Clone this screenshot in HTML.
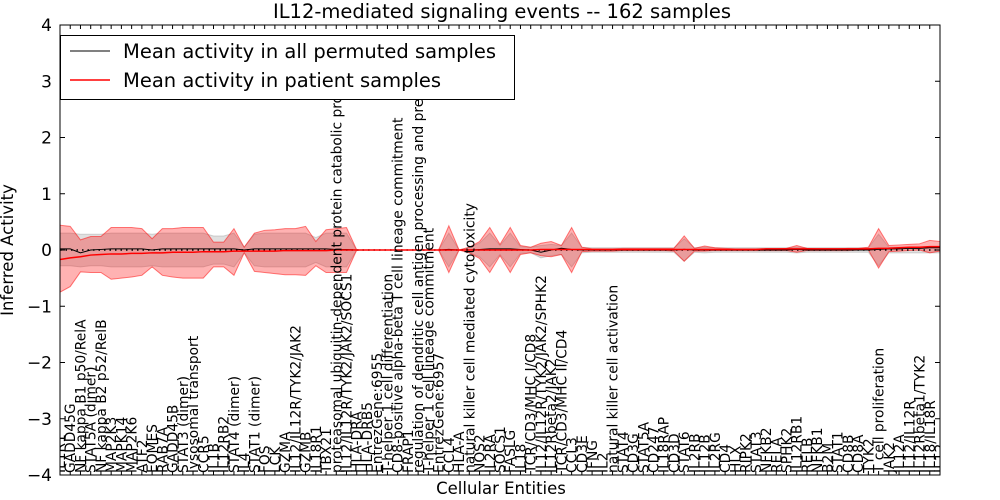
<!DOCTYPE html>
<html><head><meta charset="utf-8"><style>
html,body{margin:0;padding:0;background:#fff;}
svg{display:block;font-family:"DejaVu Sans","Liberation Sans",sans-serif;}
</style></head><body>
<svg id="chart" width="1000" height="500" viewBox="0 0 1000 500"></svg>
<script>
const labels = ["IL1R1","GADD45G","NF kappa B1 p50/RelA","STAT5A (dimer)","NF kappa B2 p52/RelB","MAP2K3","MAPK14","MAP2K6","ATF2","EOMES","RAB7A","GADD45B","STAT3 (dimer)","lysosomal transport","CCR5","IL1B","IL12RB2","STAT4 (dimer)","IL4","STAT1 (dimer)","FOS","LCK","GZMA","IL12/IL12R/TYK2/JAK2","GZMB","IL18R1","TBX21","proteasomal ubiquitin-dependent protein catabolic process","IL12/IL12R/TYK2/JAK2/SOCS1","HLA-DRA","HLA-DRB5","EntrezGene:6955","T-helper 1 cell differentiation","CD8-positive alpha-beta T cell lineage commitment","FRAP1","regulation of dendritic cell antigen processing and presentation","T-helper 1 cell lineage commitment","EntrezGene:6957","CCL4","HLA-A","natural killer cell mediated cytotoxicity","NOS2","IL2RA","SOCS1","FASLG","IL18","TCR/CD3/MHC I/CD8","IL12/IL12R/TYK2/JAK2/SPHK2","IL12Rbeta2/JAK2","TCR/CD3/MHC II/CD4","CCL3","CD3E","IFNG","IL2","natural killer cell activation","STAT4","CD3G","STAT5A","CD247","IL18RAP","CD3D","STAT6","IL2RB","IL12B","IL2RG","CD4","HLX","RIPK2","STAT3","NFKB2","RELA","SPHK2","IL12RB1","RELB","NFKB1","B2M","STAT1","CD8B","CD8A","TYK2","T cell proliferation","JAK2","IL12A","IL12/IL12R","IL12Rbeta1/TYK2","IL18/IL18R","IL12"];
const redMean = [-0.17,-0.14,-0.12,-0.09,-0.08,-0.07,-0.07,-0.06,-0.06,-0.05,-0.05,-0.04,-0.04,-0.04,-0.03,-0.03,-0.03,-0.02,-0.02,-0.02,-0.02,-0.02,-0.01,-0.01,-0.01,-0.01,-0.01,0,0,0,0,0,0,0,0,0,0,0,0,0,0,0,0,0,0,0,0,0.01,0.01,0.01,0.01,0.01,0.01,0.01,0.01,0.01,0.01,0.01,0.01,0.01,0.01,0.01,0.01,0.01,0.01,0.01,0.01,0.01,0.01,0.02,0.02,0.02,0.02,0.02,0.02,0.02,0.02,0.02,0.02,0.02,0.03,0.03,0.04,0.05,0.05,0.06,0.06];
const redUp = [0.44,0.42,0.18,0.24,0.24,0.40,0.40,0.40,0.38,0.20,0.38,0.38,0.40,0.40,0.40,0.14,0.14,0.38,0.05,0.30,0.35,0.36,0.38,0.38,0.42,0.15,0.36,0.38,0.40,0,0,0,0,0,0,0,0,0,0.43,0,0.05,0.15,0.40,0.10,0.40,0.08,0.05,0.12,0.15,0.08,0.40,0.05,0.02,0.02,0.02,0.03,0.03,0.03,0.03,0.03,0.03,0.25,0.03,0.07,0.04,0.03,0.02,0.02,0.02,0.02,0.02,0.03,0.08,0.03,0.02,0.02,0.02,0.03,0.03,0.05,0.38,0.08,0.09,0.10,0.11,0.17,0.15];
const redLo = [-0.75,-0.65,-0.39,-0.40,-0.40,-0.52,-0.50,-0.48,-0.45,-0.30,-0.45,-0.48,-0.50,-0.50,-0.50,-0.30,-0.30,-0.45,-0.05,-0.38,-0.40,-0.42,-0.44,-0.44,-0.45,-0.28,-0.40,-0.40,-0.40,0,0,0,0,0,0,0,0,0,-0.40,0,-0.05,-0.15,-0.40,-0.10,-0.40,-0.08,-0.05,-0.10,-0.12,-0.08,-0.40,-0.03,-0.02,-0.02,-0.02,-0.01,-0.01,-0.01,-0.01,-0.01,-0.02,-0.20,-0.02,-0.02,-0.01,-0.01,-0.01,-0.01,-0.01,-0.01,-0.01,-0.01,-0.04,-0.01,-0.01,-0.01,-0.01,-0.01,0,0,-0.32,-0.03,-0.02,-0.01,0,-0.05,-0.02];
const grayUp = [0.30,0.30,0.28,0.28,0.28,0.30,0.30,0.30,0.30,0.28,0.30,0.30,0.30,0.30,0.30,0.25,0.25,0.30,0.05,0.28,0.30,0.30,0.30,0.30,0.30,0.22,0.30,0.30,0.30,0,0,0,0,0,0,0,0,0,0.30,0,0.05,0.12,0.30,0.08,0.30,0.06,0.05,0.08,0.10,0.08,0.30,0.05,0.04,0.04,0.04,0.04,0.04,0.04,0.04,0.04,0.04,0.20,0.04,0.05,0.04,0.04,0.04,0.04,0.04,0.04,0.04,0.04,0.05,0.04,0.04,0.04,0.04,0.04,0.04,0.04,0.28,0.05,0.05,0.05,0.05,0.05,0.05];
const grayLo = [-0.28,-0.28,-0.30,-0.28,-0.28,-0.30,-0.30,-0.30,-0.30,-0.28,-0.30,-0.30,-0.30,-0.30,-0.30,-0.25,-0.25,-0.30,-0.05,-0.28,-0.30,-0.30,-0.30,-0.30,-0.30,-0.22,-0.30,-0.30,-0.30,0,0,0,0,0,0,0,0,0,-0.30,0,-0.05,-0.12,-0.30,-0.08,-0.30,-0.06,-0.05,-0.14,-0.10,-0.08,-0.30,-0.05,-0.04,-0.04,-0.04,-0.04,-0.04,-0.04,-0.04,-0.04,-0.04,-0.20,-0.04,-0.05,-0.04,-0.04,-0.04,-0.04,-0.04,-0.04,-0.04,-0.04,-0.05,-0.04,-0.04,-0.04,-0.04,-0.04,-0.04,-0.04,-0.28,-0.05,-0.05,-0.05,-0.05,-0.05,-0.05];
const blackMean = [0.02,0.02,-0.05,0.0,0.01,0.02,0.02,0.02,0.02,0.0,0.02,0.02,0.02,0.02,0.02,0.02,0.02,0.02,0.0,0.02,0.02,0.02,0.02,0.02,0.02,0.02,0.02,0.01,0.01,0,0,0,0,0,0,0,0,0,0.01,0,0,0.01,0.02,0.02,0.02,0.01,0.0,-0.04,0.0,0.03,0.01,0,0,0,0,0,0,0,0,0,0,0.01,0,0,0,0,0,0,0,0,0,0,0.01,0,0,0,0,0,0,0,0.01,0.02,0.02,0.03,0.03,0.04,0.04];
const yTicks = [-4,-3,-2,-1,0,1,2,3,4];

const NS="http://www.w3.org/2000/svg";
const svg=document.getElementById('chart');
const L=60,R=940,T=25,B=475;
const xs=i=>L+(R-L)*i/(labels.length-1);
const ys=v=>B-(v+4)/8*(B-T);
function mk(tag,attrs,parent){const e=document.createElementNS(NS,tag);for(const k in attrs)e.setAttribute(k,attrs[k]);(parent||svg).appendChild(e);return e;}

const title=mk('text',{x:502,y:18,'text-anchor':'middle','font-size':'19.5'});


title.textContent='IL12-mediated signaling events -- 162 samples';

const clip=mk('clipPath',{id:'pc'});mk('rect',{x:L,y:T,width:R-L,height:B-T},clip);
const plot=mk('g',{'clip-path':'url(#pc)'});



function band(up,lo,fill,op,stroke,name){
  let d='M'+up.map((v,i)=>xs(i)+','+ys(v)).join('L');
  for(let i=lo.length-1;i>=0;i--)d+='L'+xs(i)+','+ys(lo[i]);
  const p=mk('path',{d:d+'Z',fill:fill,'fill-opacity':op,stroke:stroke,'stroke-opacity':0.5,'stroke-width':1},plot);
  
  
}
band(grayUp,grayLo,'#999',0.3,'#aaa','permuted-band');
band(redUp,redLo,'#f00',0.3,'#f00','patient-band');

const zl=mk('line',{x1:L,x2:R,y1:ys(0),y2:ys(0),stroke:'#000','stroke-dasharray':'1.5,4','stroke-width':1.5},plot);



const bl=mk('polyline',{points:blackMean.map((v,i)=>xs(i)+','+ys(v)).join(' '),fill:'none',stroke:'#000','stroke-width':1},plot);


const rl=mk('polyline',{points:redMean.map((v,i)=>xs(i)+','+ys(v)).join(' '),fill:'none',stroke:'#f00','stroke-width':1.5},plot);



labels.forEach((s,i)=>{
  const x=xs(i)+5,y=B-2;
  const t=mk('text',{x:x,y:y,transform:`rotate(-90 ${x} ${y})`,'font-size':'13.8'},plot);
  
  
  t.textContent=s;
  const tk=mk('line',{x1:xs(i),x2:xs(i),y1:B,y2:B-4,stroke:'#000'});
  
  
  const tk2=mk('line',{x1:xs(i),x2:xs(i),y1:T,y2:T+4,stroke:'#000'});
  
  
});

yTicks.forEach(v=>{
  const y=ys(v);
  const a=mk('line',{x1:L,x2:L+5,y1:y,y2:y,stroke:'#000'});
  
  
  const b=mk('line',{x1:R-5,x2:R,y1:y,y2:y,stroke:'#000'});
  
  
  const t=mk('text',{x:L-8,y:y+6,'text-anchor':'end','font-size':'17'});
  
  
  t.textContent=(v<0?'\u2212'+(-v):''+v);
});

const lg=mk('g',{});


mk('rect',{x:60.5,y:35.5,width:454,height:64,fill:'#fff',stroke:'#000'},lg);
const e1=mk('line',{x1:70,x2:110,y1:51,y2:51,stroke:'#000','stroke-width':1},lg);


const t1=mk('text',{x:123,y:58,'font-size':'19.5'},lg);t1.textContent='Mean activity in all permuted samples';


const e2=mk('line',{x1:70,x2:110,y1:80,y2:80,stroke:'#f00','stroke-width':1.5},lg);


const t2=mk('text',{x:123,y:87,'font-size':'19.5'},lg);t2.textContent='Mean activity in patient samples';



const fr=mk('rect',{x:L,y:T,width:R-L,height:B-T,fill:'none',stroke:'#000'});



const xl=mk('text',{x:501,y:494,'text-anchor':'middle','font-size':'16.5'});


xl.textContent='Cellular Entities';
const yl=mk('text',{x:13,y:250,'text-anchor':'middle','font-size':'16.5',transform:'rotate(-90 13 250)'});


yl.textContent='Inferred Activity';
</script>
</body></html>
